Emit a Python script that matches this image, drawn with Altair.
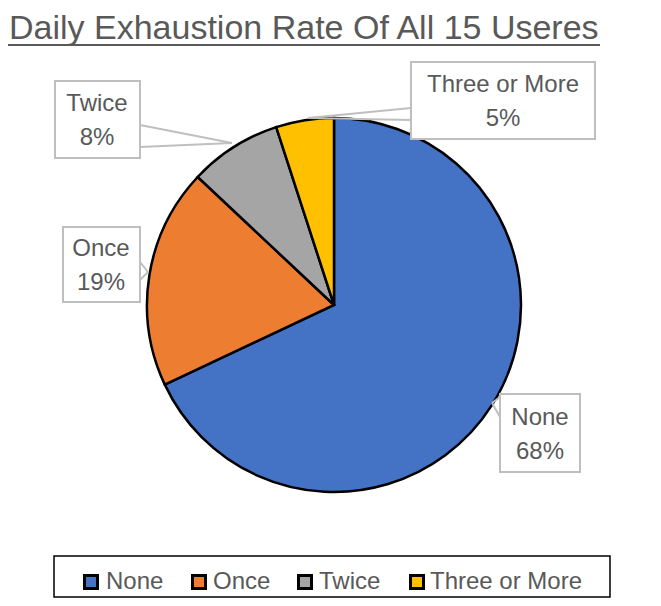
import altair as alt
import pandas as pd

# ---- data ----
categories = ["None", "Once", "Twice", "Three or More"]
percents = [68, 19, 8, 5]
colors = ["#4472C4", "#ED7D31", "#A5A5A5", "#FFC000"]
title_text = "Daily Exhaustion Rate Of All 15 Useres"

# ---- layout (image pixel coordinates) ----
W, H = 645, 590
OFF = 8
CX, CY, R = 334, 305, 187
FONT = "Liberation Sans"
GRAY = "#595959"

# label boxes: x1, x2, y1, y2, text center x, line1 y
label_layout = {
    "None": (500, 580, 394, 472, 540, 418),
    "Once": (63, 140, 227, 302, 101, 249),
    "Twice": (55, 140, 81, 158, 97, 104),
    "Three or More": (411, 595, 62, 139, 503, 85),
}
# leader wedge lines: (x_box, y_box, x_pie, y_pie)
leaders = [
    (140, 125, 232, 143), (140, 147, 232, 143),
    (411, 108, 308, 118), (411, 120, 308, 118),
    (140, 262, 148, 272), (140, 280, 148, 272),
    (500, 397, 492, 403), (500, 417, 492, 403),
]
legend_sq_x = [91, 199, 305, 417]
legend_tx_x = [106, 213, 319, 430]
legend_y = 582

xs = alt.Scale(domain=[OFF, OFF + W], range=[0, W], nice=False, zero=False)
ys = alt.Scale(domain=[OFF, OFF + H], range=[0, H], nice=False, zero=False)

pie_df = pd.DataFrame({"category": categories, "value": percents,
                       "order": list(range(len(categories)))})
color_scale = alt.Scale(domain=categories, range=colors)

pie = alt.Chart(pie_df).mark_arc(outerRadius=R, stroke="black", strokeWidth=2.5).encode(
    theta=alt.Theta("value:Q", stack=True),
    color=alt.Color("category:N", scale=color_scale, legend=None),
    order=alt.Order("order:Q"),
    x=alt.value(CX - OFF), y=alt.value(CY - OFF),
)

lab_rows = []
for c, p in zip(categories, percents):
    x1, x2, y1, y2, tx, ty = label_layout[c]
    lab_rows.append({"category": c, "label": f"{c}\n{p}%", "x1": x1, "x2": x2,
                     "y1": y1, "y2": y2, "tx": tx, "ty": ty})
lab_df = pd.DataFrame(lab_rows)

lead_df = pd.DataFrame(leaders, columns=["xa", "ya", "xb", "yb"])
leads = alt.Chart(lead_df).mark_rule(color="#BFBFBF", strokeWidth=2).encode(
    x=alt.X("xa:Q", scale=xs, axis=None), x2="xb:Q",
    y=alt.Y("ya:Q", scale=ys, axis=None), y2="yb:Q",
)

boxes = alt.Chart(lab_df).mark_rect(fill="white", stroke="#BFBFBF", strokeWidth=2).encode(
    x=alt.X("x1:Q", scale=xs, axis=None), x2="x2:Q",
    y=alt.Y("y1:Q", scale=ys, axis=None), y2="y2:Q",
)

labels = alt.Chart(lab_df).mark_text(
    font=FONT, fontSize=24, color=GRAY, lineBreak="\n", lineHeight=34,
    align="center", baseline="middle",
).encode(
    x=alt.X("tx:Q", scale=xs, axis=None),
    y=alt.Y("ty:Q", scale=ys, axis=None),
    text="label:N",
)

title_df = pd.DataFrame({"t": [title_text], "x": [9], "y": [39], "ux": [7], "x2": [600], "u": [45]})
title = alt.Chart(title_df).mark_text(
    font=FONT, fontSize=34, color=GRAY, align="left", baseline="alphabetic",
).encode(x=alt.X("x:Q", scale=xs, axis=None), y=alt.Y("y:Q", scale=ys, axis=None), text="t:N")
underline = alt.Chart(title_df).mark_rule(color=GRAY, strokeWidth=2).encode(
    x=alt.X("ux:Q", scale=xs, axis=None), x2="x2:Q",
    y=alt.Y("u:Q", scale=ys, axis=None),
)

leg_df = pd.DataFrame({"category": categories, "sx": legend_sq_x, "tx": legend_tx_x,
                       "y": [legend_y] * 4})
leg_box_df = pd.DataFrame({"x1": [54], "x2": [610], "y1": [556], "y2": [597]})
leg_box = alt.Chart(leg_box_df).mark_rect(fill="white", stroke="black", strokeWidth=1.5).encode(
    x=alt.X("x1:Q", scale=xs, axis=None), x2="x2:Q",
    y=alt.Y("y1:Q", scale=ys, axis=None), y2="y2:Q",
)
leg_sq = alt.Chart(leg_df).mark_square(size=169, opacity=1, stroke="black", strokeWidth=3).encode(
    x=alt.X("sx:Q", scale=xs, axis=None),
    y=alt.Y("y:Q", scale=ys, axis=None),
    color=alt.Color("category:N", scale=color_scale, legend=None),
)
leg_tx = alt.Chart(leg_df).mark_text(
    font=FONT, fontSize=24, color=GRAY, align="left", baseline="middle",
).encode(
    x=alt.X("tx:Q", scale=xs, axis=None),
    y=alt.Y("y:Q", scale=ys, axis=None),
    text="category:N",
)

chart = alt.layer(
    title, underline, pie, leads, boxes, labels, leg_box, leg_sq, leg_tx
).properties(
    width=W, height=H, autosize=alt.AutoSizeParams(type="none"), padding=0,
).configure_view(stroke=None)

chart.save("out.html", embed_options={"renderer": "svg", "actions": False})
